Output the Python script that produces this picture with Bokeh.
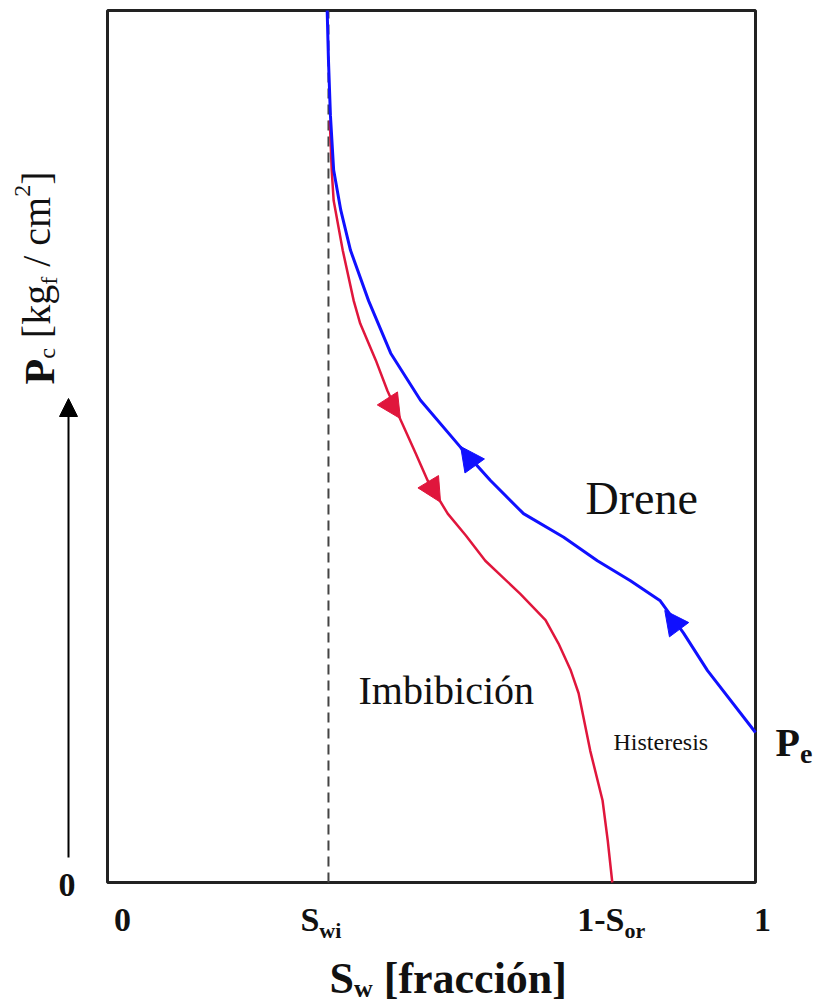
from bokeh.plotting import figure
from bokeh.models import Label, Arrow, NormalHead, Range1d
from bokeh.embed import file_html
from bokeh.resources import INLINE

# ---------------- data (Sw fraction, Pc relative) ----------------
sw_drene = [0.339, 0.341, 0.344, 0.349, 0.360, 0.375, 0.403, 0.437, 0.483, 0.545,
            0.591, 0.642, 0.704, 0.756, 0.807, 0.853, 0.889, 0.926, 1.000]
pc_drene = [1.000, 0.943, 0.880, 0.817, 0.771, 0.725, 0.667, 0.607, 0.553, 0.499,
            0.461, 0.423, 0.396, 0.369, 0.346, 0.323, 0.286, 0.243, 0.172]

sw_imb = [0.343, 0.346, 0.349, 0.363, 0.380, 0.390, 0.414, 0.432, 0.455, 0.475,
          0.494, 0.525, 0.553, 0.583, 0.637, 0.676, 0.696, 0.715, 0.727, 0.745,
          0.764, 0.772, 0.779]
pc_imb = [0.874, 0.817, 0.782, 0.725, 0.667, 0.641, 0.599, 0.564, 0.526, 0.493,
          0.461, 0.423, 0.398, 0.369, 0.331, 0.301, 0.274, 0.243, 0.217, 0.151,
          0.094, 0.048, 0.000]

swi = 0.341
one_minus_sor = 0.779

# arrow markers along the curves: (x_start, y_start, x_end, y_end)
imb_arrows = [(0.426, 0.562, 0.452, 0.532), (0.489, 0.467, 0.514, 0.436)]
drene_arrows = [(0.577, 0.467, 0.545, 0.500), (0.894, 0.278, 0.860, 0.312)]

x_tick_main = ["0", "S", "1-S", "1"]
x_tick_sub = ["", "wi", "or", ""]
y_tick_main = ["0"]

BLUE = "#1010ff"
RED = "#e0163c"
INK = "#111111"
SERIF = "Liberation Serif"

# ---------------- figure: plotting area spans the whole canvas ----------------
W, H = 816, 1007
FL, FT, FW, FH = 107, 10, 648, 872  # box geometry (px) of the Sw/Pc unit square
p = figure(width=W, height=H,
           x_range=Range1d(-FL / FW, (W - FL) / FW),
           y_range=Range1d((FT + FH - H) / FH, (FT + FH) / FH),
           min_border=0, min_border_left=0, min_border_right=0,
           min_border_top=0, min_border_bottom=0,
           output_backend="svg", toolbar_location=None)
p.xaxis.visible = False
p.yaxis.visible = False
p.grid.visible = False
p.background_fill_color = "white"
p.border_fill_color = "white"
p.outline_line_color = None


def to_data(px, py):
    return (px - FL) / FW, (FT + FH - py) / FH


W_REG = {" ": 250, "[": 333, "]": 333, "k": 500, "g": 500, "f": 333, "/": 278,
         "c": 444, "m": 778, "2": 500, "e": 444}
W_BOLD = {"P": 611, "S": 556, "w": 722, "i": 278, "o": 500, "r": 444, "1": 500,
          "-": 333, "0": 500, "e": 444, " ": 250, "[": 333, "]": 333, "f": 333,
          "a": 500, "c": 444, "ó": 500, "n": 556}
BASE_FIX = 0.37  # rendered baseline sits this many em below the anchor


def twidth(s, size, bold):
    tab = W_BOLD if bold else W_REG
    return sum(tab.get(ch, 500) for ch in s) / 1000.0 * size


def rich(segments, px, py, angle=0.0):
    """segments: (text, size_px, bold, baseline_shift_px); px/py = baseline start."""
    for text, size, bold, shift in segments:
        w = twidth(text, size, bold)
        if text.strip():
            if angle == 0:
                x, y = to_data(px, py + shift - BASE_FIX * size)
            else:
                x, y = to_data(px + shift - BASE_FIX * size, py)
            p.add_layout(Label(x=x, y=y, text=text, angle=angle,
                               text_font=SERIF, text_font_size=f"{size}px",
                               text_font_style="bold" if bold else "normal",
                               text_color=INK, text_align="left",
                               text_baseline="alphabetic"))
        if angle == 0:
            px += w
        else:
            py -= w


# box (Sw 0..1, Pc 0..1)
p.quad(left=[0], right=[1], bottom=[0], top=[1], fill_color=None,
       line_color="#222222", line_width=3)

# dashed Swi line
p.line([swi, swi], [0, 1], line_color="#444444", line_width=2, line_dash="10 6")

# curves
p.line(sw_imb, pc_imb, line_color=RED, line_width=2.5)
p.line(sw_drene, pc_drene, line_color=BLUE, line_width=3)

for xs, ys, xe, ye in imb_arrows:
    p.add_layout(Arrow(x_start=xs, y_start=ys, x_end=xe, y_end=ye, line_alpha=0,
                       end=NormalHead(size=24, fill_color=RED, line_color=RED)))
for xs, ys, xe, ye in drene_arrows:
    p.add_layout(Arrow(x_start=xs, y_start=ys, x_end=xe, y_end=ye, line_alpha=0,
                       end=NormalHead(size=24, fill_color=BLUE, line_color=BLUE)))

# in-plot texts
rich([("Drene", 46, False, 0)], 585, 515)
rich([("Imbibición", 40, False, 0)], 358, 705)
rich([("Histeresis", 24, False, 0)], 613, 750)
rich([("P", 40, True, 0), ("e", 28, True, 7)], 775, 757)

# x tick labels
x_tick_pos = [0.0, swi, one_minus_sor, 1.0]
x_offsets = [15, -28, -35, 7]
for pos, main, sub, off in zip(x_tick_pos, x_tick_main, x_tick_sub, x_offsets):
    px = FL + pos * FW + off
    segs = [(main, 34, True, 0)]
    if sub:
        segs.append((sub, 22, True, 6))
    rich(segs, px - (twidth(main, 34, True) / 2 if not sub else 0), 932)

# y tick label
rich([(y_tick_main[0], 34, True, 0)], 58, 897)

# x axis title
rich([("S", 44, True, 0), ("w", 26, True, 4), (" ", 44, True, 0),
      ("[fracción]", 44, True, 0)], 329, 994)

# y axis title (rotated, reads bottom to top)
rich([("P", 42, True, 4), ("c", 24, False, 4), (" ", 40, False, 0),
      ("[kg", 40, False, 0), ("f", 24, False, 6), (" ", 40, False, 0),
      ("/", 40, False, 0), (" ", 40, False, 0), ("cm", 40, False, 0),
      ("2", 24, False, -20), ("]", 40, False, 0)], 51, 384, angle=1.5707963)

# upward arrow beside the y axis
ax_x, _ = to_data(68, 0)
_, ay0 = to_data(0, 857)
_, ay1 = to_data(0, 398)
p.add_layout(Arrow(x_start=ax_x, y_start=ay0, x_end=ax_x, y_end=ay1,
                   line_color="black", line_width=2,
                   end=NormalHead(size=18, fill_color="black", line_color="black")))

open("out.html", "w").write(file_html(p, INLINE))
